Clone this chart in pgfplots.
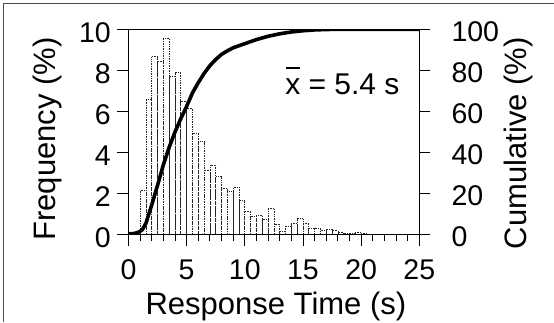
\documentclass[border=0pt]{standalone}
\usepackage{pgfplots}
\pgfplotsset{compat=1.18}
\usepackage{fontspec}
\setmainfont{Liberation Sans}
\pgfplotsset{
  common/.style={
    scale only axis, width=290.8pt, height=205.2pt,
    at={(128.5pt,87.5pt)}, anchor=south west,
    xmin=0, xmax=25,
    axis line style={line width=0.9pt},
    every tick/.style={line width=0.9pt, black},
    tick align=outside,
    major tick length=11pt, minor tick length=6.5pt,
    /pgf/number format/assume math mode=true,
    tick label style={font=\fontsize{28.5}{34}\selectfont, inner sep=0pt},
    label style={font=\fontsize{31}{37}\selectfont, inner sep=0pt},
  }
}
\begin{document}
\begin{tikzpicture}[x=1pt,y=1pt]
\path[use as bounding box] (0,0) rectangle (554,322);
\draw[line width=1.4pt, black!70] (3.3,0) -- (3.3,318.5) -- (554,318.5);
\begin{axis}[common,
  ymin=0, ymax=10,
  xtick={0,5,...,25}, minor x tick num=4,
  ytick={0,2,...,10},
  xtick pos=bottom, ytick pos=left,
  xticklabel style={anchor=base, yshift=-33.8pt},
  yticklabel style={anchor=east, yshift=-3pt},
  yticklabel shift=6.5pt,
  xlabel={Response Time (s)},
  xlabel style={at={(axis description cs:0.5,0)}, anchor=base, yshift=-79.5pt, xshift=2pt},
  ylabel={Frequency (\%)},
  ylabel style={at={(axis description cs:-0.2527,0.4654)}, anchor=base},
]
\addplot[ybar interval, draw=black!85, densely dotted, line width=0.7pt, fill=none] coordinates {
(1.0,2.15) (1.5,6.6) (2.0,8.67) (2.5,8.43) (3.0,9.57) (3.5,7.73) (4.0,7.89)
(4.5,6.48) (5.0,6.16) (5.5,4.94) (6.0,4.53) (6.5,3.15) (7.0,3.39) (7.5,2.81)
(8.0,2.25) (8.5,2.12) (9.0,2.3) (9.5,1.68) (10.0,1.13) (10.5,0.87) (11.0,0.95)
(11.5,0.73) (12.0,1.28) (12.5,0.5) (13.0,0.16) (13.5,0.42) (14.0,0.53) (14.5,0.77)
(15.0,0.55) (15.5,0.32) (16.0,0.3) (16.5,0.22) (17.0,0.27) (17.5,0.18) (18.0,0.1)
(18.5,0.04) (19.0,0.08) (19.5,0.11) (20.0,0.04) (20.5,0.03) (21.0,0.03) (21.5,0.02)
(22.0,0)
};
\node[anchor=base west, inner sep=0pt, font=\fontsize{30}{36}\selectfont] at (axis cs:13.46,6.8)
  {\makebox[0pt][l]{\hspace{0.04em}\rule[0.87em]{0.44em}{1.7pt}}x = 5.4 s};
\end{axis}
\begin{axis}[common,
  ymin=0, ymax=100,
  xtick=\empty,
  ytick={0,20,...,100},
  ytick pos=right, yticklabel pos=right,
  yticklabel={\makebox[1.67em][l]{\pgfmathprintnumber{\tick}}},
  yticklabel style={anchor=west, yshift=-2pt},
  yticklabel shift=21pt,
  ylabel={Cumulative (\%)},
  ylabel style={at={(axis description cs:1.3693,0.4444)}, anchor=base},
]
\addplot[black, line width=3.6pt, line join=round] coordinates {
(0,0.3) (0.5,0.5) (0.9,1.2) (1.2,2.4) (1.5,5.5) (2.0,14.5) (2.5,24) (3.0,34)
(3.5,42.5) (4.0,50) (4.5,56.5) (5.0,62.5) (5.5,69) (6.0,74) (6.5,78.5) (7.0,82.3)
(7.5,85.3) (8.0,87.8) (8.5,89.5) (9.0,91) (9.5,92) (10.0,93) (11,95) (12,96.6)
(13,97.8) (14,98.7) (15,99.3) (16,99.7) (17,99.9) (18,100) (25,100)
};
\end{axis}
\end{tikzpicture}
\end{document}
